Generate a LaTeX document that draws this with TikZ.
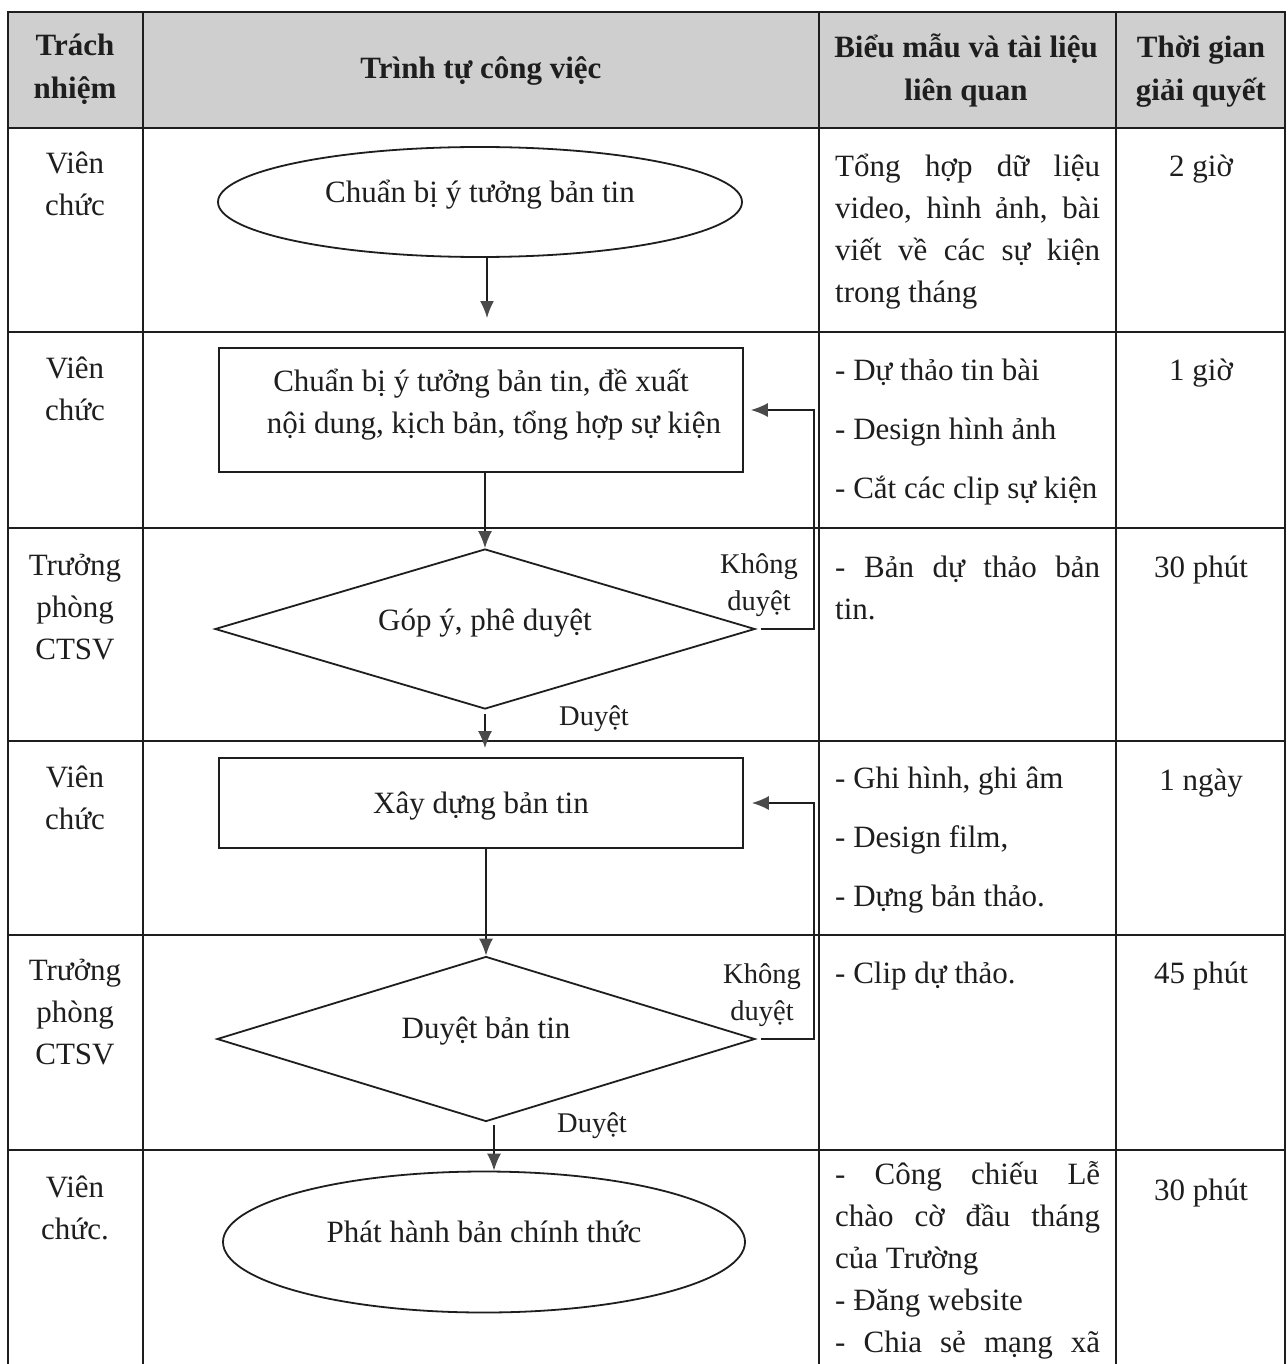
\documentclass[tikz,border=0pt]{standalone}
\usepackage{fontspec}
\setmainfont{Liberation Serif}
\usetikzlibrary{shapes.geometric,arrows.meta}
\definecolor{ink}{HTML}{1E1E1E}
\definecolor{hdr}{HTML}{CFCFCF}
\definecolor{tipc}{HTML}{4A4A4A}
\begin{document}
\begin{tikzpicture}[x=1pt,y=-1pt,
  tline/.style={draw=ink, line width=1.4pt},
  txt/.style={font=\fontsize{31}{42}\selectfont, text=ink, inner sep=0pt, align=center},
  hd/.style={inner sep=0pt, align=center, text=ink, font=\fontsize{31}{43}\selectfont\bfseries},
  par3/.style={font=\fontsize{31}{42}\selectfont, text=ink, inner sep=0pt, align=flush left, text width=268pt, anchor=north west},
  shp/.style={draw=ink, line width=1.8pt, inner sep=0pt, font=\fontsize{31}{42}\selectfont, text=ink, align=center},
  arr/.style={draw=ink, line width=1.6pt, -{Latex[length=17pt,width=14pt,color=tipc]}},
  lbl/.style={font=\fontsize{28.5}{37}\selectfont, text=ink, inner sep=0pt, align=center},
]
\useasboundingbox (0,0) rectangle (1287,1364);
\fill[white] (0,0) rectangle (1287,1364);
\fill[hdr] (8,12) rectangle (1285,128);

% table grid
\draw[tline] (8,1364) -- (8,12) -- (1285,12) -- (1285,1364);
\foreach \x in {143,819,1116} \draw[tline] (\x,12) -- (\x,1364);
\foreach \y in {128,332,528,741,935,1150} \draw[tline] (8,\y) -- (1285,\y);

% header
\node[hd] (h1) at (75,68) {\strut Trách\\\strut nhiệm};
\node[hd] (h2) at (481,69.5) {\strut Trình tự công việc};
\node[hd] (h3) at (966,70) {\strut Biểu mẫu và tài liệu\\\strut liên quan};
\node[hd] (h4) at (1201,70.5) {\strut Thời gian\\\strut giải quyết};

% column 1
\node[txt] (a1) at (75,186) {\strut Viên\\\strut chức};
\node[txt] (a2) at (75,391) {\strut Viên\\\strut chức};
\node[txt] (a3) at (75,609) {\strut Trưởng\\\strut phòng\\\strut CTSV};
\node[txt] (a4) at (75,800) {\strut Viên\\\strut chức};
\node[txt] (a5) at (75,1014) {\strut Trưởng\\\strut phòng\\\strut CTSV};
\node[txt] (a6) at (75,1210) {\strut Viên\\\strut chức.};

% column 3
\node[par3] (b1) at (835,147) {\strut\makebox[265pt][s]{Tổng hợp dữ liệu}\\\strut\makebox[265pt][s]{video, hình ảnh, bài}\\\strut\makebox[265pt][s]{viết về các sự kiện}\\\strut trong tháng};
\node[par3] (b2) at (835,351) {\strut - Dự thảo tin bài\\[17pt]\strut - Design hình ảnh\\[17pt]\strut - Cắt các clip sự kiện};
\node[par3] (b3) at (835,548) {\strut\makebox[265pt][s]{- Bản dự thảo bản}\\\strut tin.};
\node[par3] (b4) at (835,759) {\strut - Ghi hình, ghi âm\\[17pt]\strut - Design film,\\[17pt]\strut - Dựng bản thảo.};
\node[par3] (b5) at (835,954) {\strut - Clip dự thảo.};
\node[par3] (b6) at (835,1155) {\strut\makebox[265pt][s]{- Công chiếu Lễ}\\\strut\makebox[265pt][s]{chào cờ đầu tháng}\\\strut của Trường\\\strut - Đăng website\\\strut\makebox[265pt][s]{- Chia sẻ mạng xã}};

% column 4
\node[txt] (t1) at (1201,168) {\strut 2 giờ};
\node[txt] (t2) at (1201,372) {\strut 1 giờ};
\node[txt] (t3) at (1201,569) {\strut 30 phút};
\node[txt] (t4) at (1201,782) {\strut 1 ngày};
\node[txt] (t5) at (1201,975) {\strut 45 phút};
\node[txt] (t6) at (1201,1192) {\strut 30 phút};

% flowchart
\node[shp, ellipse, minimum width=524pt, minimum height=110pt, text height=25pt, text depth=23pt] (e1) at (480,202) {Chuẩn bị ý tưởng bản tin};
\node[shp, rectangle, minimum width=524pt, minimum height=124pt, text height=50pt, text depth=4pt] (r2) at (481,410) {Chuẩn bị ý tưởng bản tin, đề xuất\\\hspace*{26pt}nội dung, kịch bản, tổng hợp sự kiện};
\node[shp, diamond, aspect=3.4, minimum width=540pt, minimum height=160pt, text height=25pt, text depth=23pt] (d1) at (485,629) {Góp ý, phê duyệt};
\node[shp, rectangle, minimum width=524pt, minimum height=90pt, text height=25pt, text depth=5pt] (r3) at (481,803) {Xây dựng bản tin};
\node[shp, diamond, aspect=3.3, minimum width=538pt, minimum height=165pt, text height=25pt, text depth=27pt] (d2) at (486,1039) {Duyệt bản tin};
\node[shp, ellipse, minimum width=522pt, minimum height=141pt, text height=25pt, text depth=25pt] (e2) at (484,1242) {Phát hành bản chính thức};

\coordinate (c1) at (487,318);
\coordinate (lp) at (814,0);

\draw[arr] (e1.south -| c1) -- (c1);
\draw[arr] (r2.south -| d1.north) -- (d1.north);
\draw[arr, shorten <=4pt, shorten >=9pt] (d1.south) -- (d1.south |- r3.north);
\draw[arr] (r3.south -| d2.north) -- (d2.north);
\draw[arr, shorten <=3pt] ([xshift=8pt]d2.south) -- ([xshift=8pt]d2.south |- e2.north);

\draw[arr, line width=1.4pt, shorten >=7pt] ([xshift=5pt]d1.east) -- (d1.east -| lp) |- (r2.east);
\draw[arr, line width=1.4pt, shorten >=8pt] ([xshift=5pt]d2.east) -- (d2.east -| lp) |- (r3.east);

\node[lbl] (k1) at (759,585) {\strut Không\\\strut duyệt};
\node[lbl] (k2) at (762,995) {\strut Không\\\strut duyệt};
\node[lbl] (y1) at (594,718) {\strut Duyệt};
\node[lbl] (y2) at (592,1125) {\strut Duyệt};
\end{tikzpicture}
\end{document}
